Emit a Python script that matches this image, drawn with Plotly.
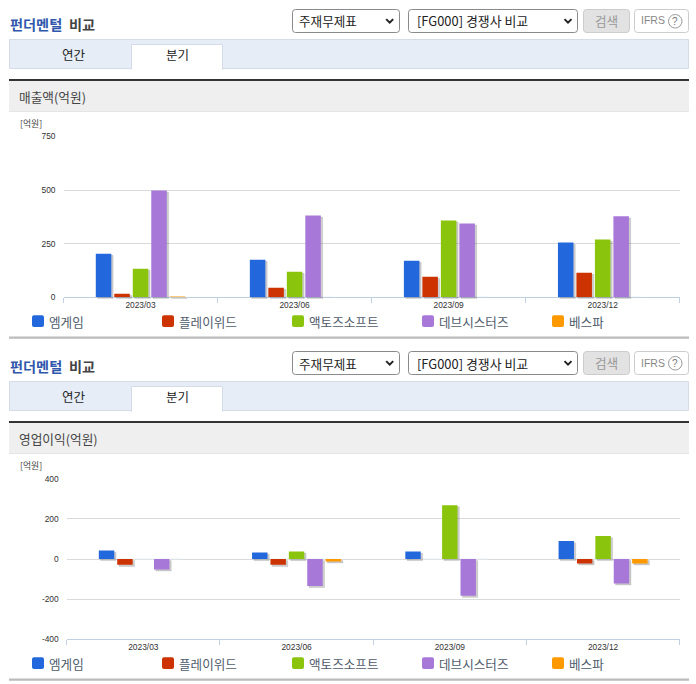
import plotly.graph_objects as go

categories = ["2023/03", "2023/06", "2023/09", "2023/12"]
series_names = ["엠게임", "플레이위드", "액토즈소프트", "데브시스터즈", "베스파"]
series_colors = ["#2268DC", "#CC3300", "#8BC40C", "#A878D8", "#FF9900"]

rev_mgame = [203, 175, 170, 255]
rev_playwith = [16, 44, 95, 114]
rev_actoz = [133, 119, 358, 269]
rev_devsisters = [498, 381, 344, 377]
rev_vespa = [3, None, None, None]

op_mgame = [42, 32, 37, 89]
op_playwith = [-29, -29, None, -22]
op_actoz = [None, 37, 268, 114]
op_devsisters = [-52, -134, -183, -122]
op_vespa = [None, -12, None, -22]

rev_ticks = [0, 250, 500, 750]
op_ticks = [-400, -200, 0, 200, 400]

revenue = [rev_mgame, rev_playwith, rev_actoz, rev_devsisters, rev_vespa]
op_income = [op_mgame, op_playwith, op_actoz, op_devsisters, op_vespa]

W, H = 696, 684
KR = "Noto Sans CJK KR"
LAT = "Liberation Sans"

def px(x):
    return x / W

def py(y):
    return 1 - y / H

shapes, annotations = [], []

def rect(x0, y0, x1, y1, fill=None, line=None, lw=1):
    shapes.append(dict(type="rect", xref="paper", yref="paper", x0=px(x0), x1=px(x1), y0=py(y0), y1=py(y1),
                       fillcolor=fill or "rgba(0,0,0,0)", line=dict(color=line or "rgba(0,0,0,0)", width=lw if line else 0),
                       layer="below"))

def rrect(x0, y0, x1, y1, r, fill=None, line=None, lw=1):
    a, b, c, d = px(x0), px(x1), py(y0), py(y1)
    rx, ry = r / W, r / H
    p = (f"M{a+rx},{c} L{b-rx},{c} Q{b},{c} {b},{c-ry} L{b},{d+ry} Q{b},{d} {b-rx},{d} "
         f"L{a+rx},{d} Q{a},{d} {a},{d+ry} L{a},{c-ry} Q{a},{c} {a+rx},{c} Z")
    shapes.append(dict(type="path", xref="paper", yref="paper", path=p, fillcolor=fill or "rgba(0,0,0,0)",
                       line=dict(color=line or "rgba(0,0,0,0)", width=lw if line else 0), layer="below"))

def chevron(cx, cy):
    p = (f"M{px(cx-3.5)},{py(cy-1.7)} L{px(cx)},{py(cy+1.8)} L{px(cx+3.5)},{py(cy-1.7)}")
    shapes.append(dict(type="path", xref="paper", yref="paper", path=p,
                       line=dict(color="#222", width=2), layer="below"))

def text(x, y, s, size=12, color="#333", anchor="left", family=KR):
    annotations.append(dict(xref="paper", yref="paper", x=px(x), y=py(y), text=s, showarrow=False,
                            xanchor=anchor, yanchor="middle", borderpad=0, borderwidth=0,
                            font=dict(size=size, color=color, family=family)))

def chrome(o, header):
    text(9.5, 24 + o, "<b>펀더멘털</b>", 14.2, "#2F57AC")
    text(68.5, 24 + o, "<b>비교</b>", 14.2, "#444444")
    rrect(292.5, 9.5 + o, 399.5, 32.5 + o, 3, "#FFFFFF", "#8A8A8A")
    text(299, 21 + o, "주재무제표", 12.6, "#222222")
    chevron(389.7, 20.8 + o)
    rrect(408.5, 9.5 + o, 577.5, 32.5 + o, 3, "#FFFFFF", "#8A8A8A")
    text(417, 21 + o, "[FG000] 경쟁사 비교", 12.9, "#222222")
    chevron(568, 20.8 + o)
    rrect(583.5, 9.5 + o, 629.5, 32.5 + o, 3, "#E2E2E2", "#CCCCCC")
    text(606.5, 20.5 + o, "검색", 12.6, "#999999", "center")
    rrect(634.5, 9.5 + o, 688.5, 32.5 + o, 3, "#FFFFFF", "#CCCCCC")
    text(641, 20.5 + o, "IFRS", 10.5, "#888888", "left", LAT)
    shapes.append(dict(type="circle", xref="paper", yref="paper", x0=px(668.5), x1=px(682), y0=py(14.5 + o), y1=py(28 + o),
                       line=dict(color="#999999", width=1), layer="below"))
    text(675.3, 21.5 + o, "?", 10, "#777777", "center", LAT)
    rect(9.5, 39.5 + o, 688.5, 68.5 + o, "#E6EDF7", "#D5DCE8")
    rect(131.5, 44.5 + o, 222.5, 69.5 + o, "#FFFFFF", "#D5DCE8")
    rect(132, 67 + o, 222, 70 + o, "#FFFFFF")
    text(74, 55 + o, "연간", 12.5, "#222222", "center")
    text(177, 55 + o, "분기", 12.5, "#222222", "center")
    rect(9, 79 + o, 689, 81 + o, "#333333")
    rect(9, 81 + o, 689, 111 + o, "#EFEFEF")
    rect(9, 111 + o, 689, 111.7 + o, "#DDDDDD")
    text(19, 96 + o, header, 12.7, "#444444")
    text(20, 123.5 + o, "[억원]", 8.8, "#444444")
    for i, (name, col) in enumerate(zip(series_names, series_colors)):
        x = 32 + 130 * i
        rrect(x, 315.3 + o, x + 12, 327 + o, 2, col)
        text(x + 17.3, 321 + o, name, 12.6, "#4F5B6B")
    rect(9, 336.5 + o, 689, 338.7 + o, "#BBBBBB")

chrome(0, "매출액(억원)")
chrome(342, "영업이익(억원)")

fig = go.Figure()
layout_axes = {}

def panel(first, values, xl, xr, yt, yb, yrange, yticks):
    g, s, m = first, first + 1, first + 2
    def nm(n, a):
        return f"{a}axis" + ("" if n == 1 else str(n))
    def rf(n, a):
        return a + ("" if n == 1 else str(n))
    cat = dict(type="category", categoryorder="array", categoryarray=categories, range=[-0.5, 3.5], automargin=False)
    # grid / tick axes
    layout_axes[nm(g, "x")] = dict(cat, domain=[px(xl), px(xr)], anchor=rf(g, "y"), showline=True, linecolor="#C0D0E0",
                                   linewidth=1, ticks="outside", ticklen=5, tickcolor="#C0D0E0", tickson="boundaries",
                                   showgrid=False, tickfont=dict(size=8.4, color="#333333", family=LAT), ticklabelstandoff=0)
    layout_axes[nm(g, "y")] = dict(domain=[py(yb), py(yt)], anchor=rf(g, "x"), range=yrange, tickmode="array",
                                   tickvals=yticks, ticktext=[str(v) for v in yticks], automargin=False,
                                   showgrid=True, gridcolor="#DADADA", gridwidth=1, zeroline=False, showline=False,
                                   ticks="", ticklabelstandoff=7, tickfont=dict(size=8.4, color="#333333", family=LAT))
    # shadow axes are the same scale moved slightly right and down
    for n, dx, dy in ((s, 1.8, 1.6), (m, 0, 0)):
        layout_axes[nm(n, "x")] = dict(cat, domain=[px(xl + dx), px(xr + dx)], anchor=rf(n, "y"), visible=False)
        layout_axes[nm(n, "y")] = dict(domain=[py(yb + dy), py(yt + dy)], anchor=rf(n, "x"), range=yrange, visible=False,
                                       automargin=False)
    fig.add_trace(go.Bar(x=categories, y=[0, 0, 0, 0], xaxis=rf(g, "x"), yaxis=rf(g, "y"), showlegend=False,
                         marker=dict(color="rgba(0,0,0,0)"), hoverinfo="skip"))
    for name, col, vals in zip(series_names, series_colors, values):
        fig.add_trace(go.Bar(x=categories, y=vals, xaxis=rf(s, "x"), yaxis=rf(s, "y"), offsetgroup=name, showlegend=False,
                             marker=dict(color="rgba(60,60,60,0.26)", line=dict(color="rgba(60,60,60,0.1)", width=1)),
                             hoverinfo="skip", cliponaxis=False))
    for name, col, vals in zip(series_names, series_colors, values):
        fig.add_trace(go.Bar(x=categories, y=vals, name=name, xaxis=rf(m, "x"), yaxis=rf(m, "y"), offsetgroup=name,
                             showlegend=False, marker=dict(color=col, line=dict(width=0)), cliponaxis=False))

panel(1, revenue, 63.5, 679.7, 136.4, 297.2, [0, 750], rev_ticks)
panel(4, op_income, 66.7, 679.7, 478.6, 639.4, [-400, 400], op_ticks)

fig.update_layout(width=W, height=H, autosize=False, margin=dict(l=0, r=0, t=0, b=0), paper_bgcolor="white",
                  plot_bgcolor="rgba(0,0,0,0)", barmode="group", bargap=0.4, bargroupgap=0.16,
                  shapes=shapes, annotations=annotations, showlegend=False, font=dict(family=KR), **layout_axes)

fig.write_html("out.html", post_script="document.body.style.margin='0';", config={"displayModeBar": False})
